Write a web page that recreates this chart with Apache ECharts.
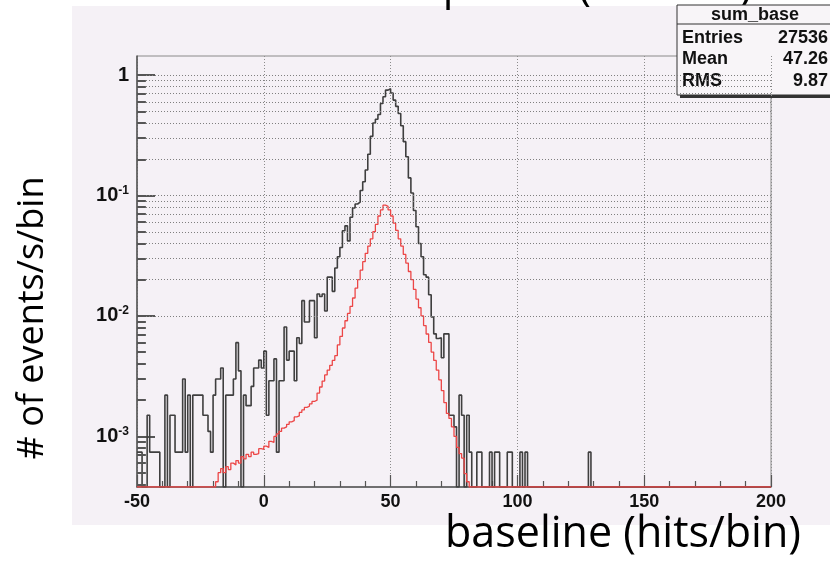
<!DOCTYPE html>
<html>
<head>
<meta charset="utf-8">
<script src="https://cdn.jsdelivr.net/npm/echarts@6/dist/echarts.min.js"></script>
<style>
  html, body { margin: 0; padding: 0; background: #fff; }
  #chartsDiv { width: 830px; height: 562px; }
</style>
</head>
<body>
<div id="chartsDiv"></div>
<script>
// histogram binning: 250 bins of width 1 from -50 to 200
var binStart = -50;
var binWidth = 1;

// all events (black), events/s/bin, bins -50 .. 199
var totalRate = [
  0.00074, 0.00074, 0, 0, 0.0015, 0.00074, 0.00074, 0.00074, 0.00074, 0,
  0, 0.0022, 0, 0.0015, 0.0015, 0.00074, 0.00074, 0.00074, 0.003, 0.00074,
  0.0022, 0, 0.0022, 0.0022, 0.0022, 0.0022, 0.0015, 0.0015, 0.0011, 0.00074,
  0.0022, 0.003, 0.003, 0.0037, 0, 0.0022, 0.0022, 0.0022, 0.003, 0.006,
  0.0035, 0, 0.0022, 0.0018, 0.0018, 0.0026, 0.0037, 0.0037, 0.0043, 0.0037,
  0.0051, 0.0015, 0.0029, 0.0029, 0.0044, 0.00074, 0.0029, 0.0029, 0.0081, 0.0043,
  0.0051, 0.0051, 0.0029, 0.0066, 0.0059, 0.0134, 0.0089, 0.0089, 0.0134, 0.0134,
  0.0066, 0.0152, 0.0145, 0.0152, 0.011, 0.021, 0.021, 0.016, 0.025, 0.031,
  0.037, 0.051, 0.056, 0.042, 0.066, 0.079, 0.085, 0.088, 0.11, 0.13,
  0.163, 0.22, 0.31, 0.40, 0.43, 0.47, 0.58, 0.66, 0.75, 0.77,
  0.71, 0.62, 0.55, 0.48, 0.38, 0.28, 0.21, 0.14, 0.105, 0.075,
  0.055, 0.040, 0.031, 0.022, 0.021, 0.015, 0.0098, 0.0071, 0.0065, 0.0066,
  0.0045, 0.0071, 0.0071, 0.0015, 0.0015, 0.0012, 0, 0.0022, 0.0015, 0,
  0.0015, 0.00074, 0, 0, 0.00074, 0.00074, 0, 0, 0, 0.00074,
  0, 0.00074, 0.00074, 0, 0, 0, 0.00074, 0.00074, 0, 0,
  0, 0.00074, 0, 0.00074, 0, 0, 0, 0, 0, 0,
  0, 0, 0, 0, 0, 0, 0, 0, 0, 0,
  0, 0, 0, 0, 0, 0, 0, 0, 0.00074, 0,
  0, 0, 0, 0, 0, 0, 0, 0, 0, 0,
  0, 0, 0, 0, 0, 0, 0, 0, 0, 0,
  0, 0, 0, 0, 0, 0, 0, 0, 0, 0,
  0, 0, 0, 0, 0, 0, 0, 0, 0, 0,
  0, 0, 0, 0, 0, 0, 0, 0, 0, 0,
  0, 0, 0, 0, 0, 0, 0, 0, 0, 0,
  0, 0, 0, 0, 0, 0, 0, 0, 0, 0
];

// selected events (red), bins -50 .. 199
var selectedRate = [
  0, 0, 0, 0, 0, 0, 0, 0, 0, 0,
  0, 0, 0, 0, 0, 0, 0, 0, 0, 0,
  0, 0, 0, 0, 0, 0, 0, 0, 0, 0,
  0, 0.00042, 0.0005, 0.00054, 0.0005, 0.00056, 0.00053, 0.0006, 0.00058, 0.00063,
  0.0006, 0.00068, 0.00065, 0.00071, 0.00068, 0.00074, 0.00071, 0.00072, 0.00079, 0.00078,
  0.00083, 0.00081, 0.00091, 0.00089, 0.001, 0.00105, 0.0011, 0.00117, 0.0012, 0.00126,
  0.00132, 0.00135, 0.00145, 0.00148, 0.00158, 0.00166, 0.00174, 0.00178, 0.00186, 0.00195,
  0.002, 0.00229, 0.00257, 0.00288, 0.00324, 0.00355, 0.00389, 0.00427, 0.00468, 0.00575,
  0.00676, 0.00794, 0.00912, 0.0105, 0.012, 0.0141, 0.017, 0.02, 0.024, 0.0282,
  0.0331, 0.038, 0.0437, 0.0501, 0.0575, 0.0676, 0.0759, 0.0832, 0.0813, 0.0759,
  0.0676, 0.0589, 0.0513, 0.0437, 0.038, 0.0324, 0.0275, 0.0234, 0.02, 0.0166,
  0.0138, 0.0117, 0.01, 0.00832, 0.00708, 0.00603, 0.00501, 0.00427, 0.00355, 0.00295,
  0.0024, 0.00191, 0.00155, 0.00141, 0.0012, 0.001, 0.00081, 0.00072, 0.00066, 0.00049,
  0.00042, 0, 0, 0, 0, 0, 0, 0, 0, 0,
  0, 0, 0, 0, 0, 0, 0, 0, 0, 0,
  0, 0, 0, 0, 0, 0, 0, 0, 0, 0,
  0, 0, 0, 0, 0, 0, 0, 0, 0, 0,
  0, 0, 0, 0, 0, 0, 0, 0, 0, 0,
  0, 0, 0, 0, 0, 0, 0, 0, 0, 0,
  0, 0, 0, 0, 0, 0, 0, 0, 0, 0,
  0, 0, 0, 0, 0, 0, 0, 0, 0, 0,
  0, 0, 0, 0, 0, 0, 0, 0, 0, 0,
  0, 0, 0, 0, 0, 0, 0, 0, 0, 0,
  0, 0, 0, 0, 0, 0, 0, 0, 0, 0,
  0, 0, 0, 0, 0, 0, 0, 0, 0, 0
];

// axis ranges
var xMin = -50, xMax = 200, xStep = 50;
var yMin = 3.8e-4, yMax = 1.44;

// log grid lines (1..9 x 10^n)
var gridValues = [
  4e-4, 5e-4, 6e-4, 7e-4, 8e-4, 9e-4,
  1e-3, 2e-3, 3e-3, 4e-3, 5e-3, 6e-3, 7e-3, 8e-3, 9e-3,
  1e-2, 2e-2, 3e-2, 4e-2, 5e-2, 6e-2, 7e-2, 8e-2, 9e-2,
  1e-1, 2e-1, 3e-1, 4e-1, 5e-1, 6e-1, 7e-1, 8e-1, 9e-1, 1
];

// stats box
var statsName = 'sum_base';
var statsLabels = ['Entries', 'Mean', 'RMS'];
var statsValues = ['27536', '47.26', '9.87'];

var xTitle = 'baseline (hits/bin)';
var yTitle = '# of events/s/bin';
var topTitle = 'Baseline spectra (hits/bin)';

var toSteps = function (rates) {
  var pts = [];
  for (var i = 0; i < rates.length; i++) {
    // empty bins sit on the bottom of the frame, like ROOT does
    pts.push([binStart + i * binWidth, rates[i] > 0 ? rates[i] : yMin]);
  }
  pts.push([binStart + rates.length * binWidth, pts[pts.length - 1][1]]);
  return pts;
};

var logLabel = function (v) {
  var e = Math.log10(v);
  var r = Math.round(e);
  if (Math.abs(e - r) > 1e-6) return '';
  if (r === 0) return '{b|1}';
  return '{b|10}{s|' + r + '}';
};

var realChart = echarts.init(document.getElementById('chartsDiv'));

var gridLines = gridValues.map(function (v) { return { yAxis: v }; });
// short ROOT-style ticks on the inner side of the y axis
var minorTicks = gridValues.map(function (v) {
  return [
    { coord: [xMin, v], lineStyle: { color: '#555', type: 'solid', width: 2 } },
    { coord: [xMin + 3.5, v] }
  ];
});

var statsFont = 'bold 18px "Liberation Sans"';
var statsTexts = [{
  type: 'text', x: 755, y: 15,
  style: { text: statsName, font: statsFont, fill: '#111', align: 'center', verticalAlign: 'middle' }
}];
statsLabels.forEach(function (lab, i) {
  statsTexts.push({
    type: 'text', x: 682, y: 38 + i * 21.5,
    style: { text: lab, font: statsFont, fill: '#111', align: 'left', verticalAlign: 'middle' }
  });
  statsTexts.push({
    type: 'text', x: 828, y: 38 + i * 21.5,
    style: { text: statsValues[i], font: statsFont, fill: '#111', align: 'right', verticalAlign: 'middle' }
  });
});

var option = {
  animation: false,
  backgroundColor: '#fff',
  graphic: [
    {
      type: 'rect', z: -10, silent: true,
      shape: { x: 72, y: 6, width: 760, height: 519 },
      style: { fill: '#f5f1f6' }
    },
    {
      type: 'text', x: 752, y: 9, silent: true,
      style: { text: topTitle, font: '42px "Open Sans"', fill: '#000', align: 'right', verticalAlign: 'bottom' }
    },
    {
      type: 'text', x: 33, y: 318, rotation: Math.PI / 2, silent: true,
      style: { text: yTitle, font: '36px "Open Sans"', fill: '#000', align: 'center', verticalAlign: 'middle' }
    },
    {
      type: 'text', x: 801, y: 535, silent: true, z: 50,
      style: { text: xTitle, font: '43px "Open Sans"', fill: '#000', align: 'right', verticalAlign: 'middle' }
    },
    {
      type: 'group', z: 100, silent: true,
      children: [
        { type: 'rect', shape: { x: 680, y: 9, width: 160, height: 89 }, style: { fill: '#333' } },
        { type: 'rect', shape: { x: 677, y: 5, width: 160, height: 90 }, style: { fill: '#f8f5f8', stroke: '#333', lineWidth: 1 } },
        { type: 'line', shape: { x1: 677, y1: 24, x2: 830, y2: 24 }, style: { stroke: '#333', lineWidth: 1 } }
      ].concat(statsTexts)
    }
  ],
  grid: {
    left: 137,
    right: 59,
    top: 56,
    bottom: 75,
    show: true,
    borderColor: '#8a8a8a',
    borderWidth: 1,
    backgroundColor: 'transparent'
  },
  xAxis: {
    type: 'value',
    min: xMin,
    max: xMax,
    interval: xStep,
    axisLine: { onZero: false, lineStyle: { color: '#555', width: 1.5 } },
    axisTick: { inside: true, length: 12, lineStyle: { color: '#555', width: 1.2 } },
    minorTick: { show: true, splitNumber: 5, length: 6, lineStyle: { color: '#555', width: 1.2 } },
    splitLine: { show: true, lineStyle: { color: '#8c8c8c', type: [1, 2], width: 1 } },
    axisLabel: {
      color: '#111',
      fontFamily: 'Liberation Sans',
      fontWeight: 'bold',
      fontSize: 18,
      margin: 6
    }
  },
  yAxis: {
    type: 'log',
    logBase: 10,
    min: yMin,
    max: yMax,
    axisLine: { onZero: false, lineStyle: { color: '#555', width: 1.5 } },
    axisTick: { inside: true, length: 18, lineStyle: { color: '#555', width: 2 } },
    splitLine: { show: false },
    axisLabel: {
      showMinLabel: false,
      showMaxLabel: false,
      margin: 8,
      formatter: logLabel,
      rich: {
        b: { color: '#111', fontFamily: 'Liberation Sans', fontWeight: 'bold', fontSize: 20, lineHeight: 22 },
        s: { color: '#111', fontFamily: 'Liberation Sans', fontWeight: 'bold', fontSize: 12, lineHeight: 13, verticalAlign: 'top' }
      }
    }
  },
  series: [
    {
      name: 'grid',
      type: 'line',
      z: 1,
      data: [],
      silent: true,
      markLine: {
        silent: true,
        symbol: 'none',
        label: { show: false },
        lineStyle: { color: '#7f7f7f', type: [1, 2], width: 1 },
        data: gridLines.concat(minorTicks)
      }
    },
    {
      name: 'all',
      type: 'line',
      z: 3,
      step: 'end',
      symbol: 'none',
      data: toSteps(totalRate),
      lineStyle: { color: '#3f3f3f', width: 1.6 }
    },
    {
      name: 'selected',
      type: 'line',
      z: 4,
      step: 'end',
      symbol: 'none',
      data: toSteps(selectedRate),
      lineStyle: { color: '#ec4646', width: 1.3 }
    }
  ]
};

realChart.setOption(option);
</script>
</body>
</html>
